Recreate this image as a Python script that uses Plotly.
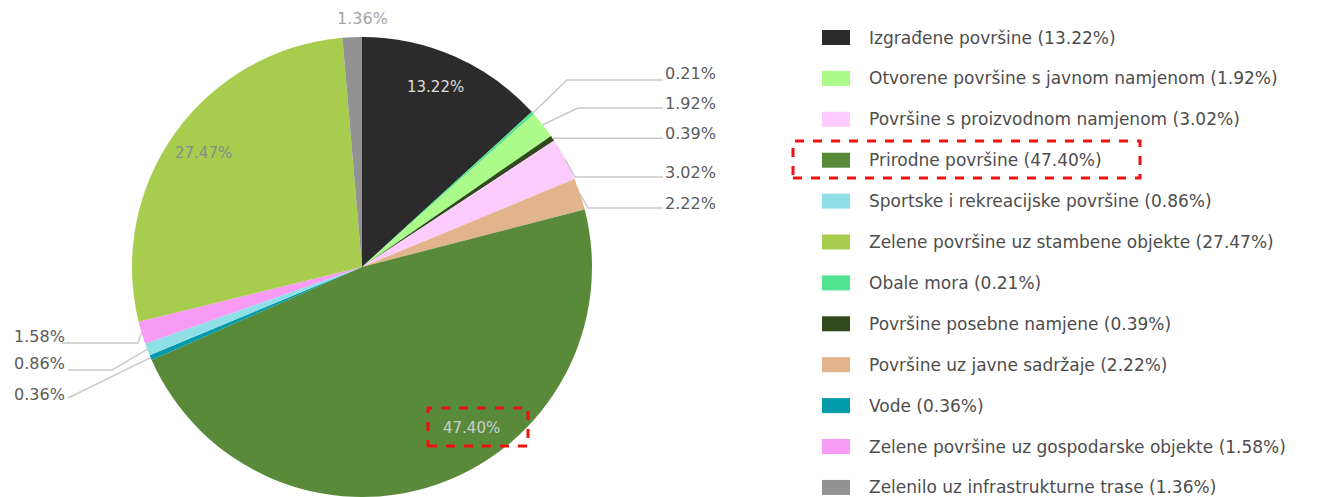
import math
import plotly.graph_objects as go

# ---- data ----
slice_labels = [
    "Izgrađene površine", "Obale mora", "Otvorene površine s javnom namjenom",
    "Površine posebne namjene", "Površine s proizvodnom namjenom",
    "Površine uz javne sadržaje", "Prirodne površine", "Vode",
    "Sportske i rekreacijske površine", "Zelene površine uz gospodarske objekte",
    "Zelene površine uz stambene objekte", "Zelenilo uz infrastrukturne trase",
]
slice_values = [13.22, 0.21, 1.92, 0.39, 3.02, 2.22, 47.40, 0.36, 0.86, 1.58, 27.47, 1.36]
slice_colors = ["#2b2b2b", "#4fe38f", "#abfb8a", "#2f4a1b", "#fdcbfd", "#e2b48b",
                "#588a3a", "#009aab", "#8fdfe6", "#f79bf7", "#a8cd4e", "#929292"]

legend_order = [
    "Izgrađene površine", "Otvorene površine s javnom namjenom",
    "Površine s proizvodnom namjenom", "Prirodne površine",
    "Sportske i rekreacijske površine", "Zelene površine uz stambene objekte",
    "Obale mora", "Površine posebne namjene", "Površine uz javne sadržaje",
    "Vode", "Zelene površine uz gospodarske objekte", "Zelenilo uz infrastrukturne trase",
]

W, H = 1324, 497
CX, CY, R = 362, 267, 230

def px(x):
    return x / W

def py(y):
    return 1 - y / H

def fmt(v):
    return f"{v:.2f}%"

fig = go.Figure(go.Pie(
    labels=slice_labels, values=slice_values, sort=False, direction="clockwise",
    rotation=0, marker=dict(colors=slice_colors, line=dict(width=0)),
    textinfo="none", hoverinfo="label+percent", showlegend=False,
    domain=dict(x=[px(CX - R), px(CX + R)], y=[0, py(CY - R)]),
))

FONT = "DejaVu Sans"
annotations = []
shapes = []

cum = 0
mid = {}
total = sum(slice_values)
for lab, v in zip(slice_labels, slice_values):
    mid[lab] = (cum + v / 2) / total * 2 * math.pi
    cum += v

def edge(lab, r=R):
    a = mid[lab]
    return CX + r * math.sin(a), CY - r * math.cos(a)

def ann(x, y, text, color, size, xanchor="center"):
    annotations.append(dict(x=px(x), y=py(y), xref="paper", yref="paper", text=text,
                            xanchor=xanchor, yanchor="middle", showarrow=False,
                            font=dict(family=FONT, size=size, color=color)))

# inside labels
inside = [("Izgrađene površine", 436, 87, "#dedede"),
          ("Zelene površine uz stambene objekte", 203, 153, "#8a8a8a"),
          ("Prirodne površine", 472, 428, "#cfcfcf")]
for lab, x, y, c in inside:
    ann(x, y, fmt(slice_values[slice_labels.index(lab)]), c, 15)

LINE = "#c9c9c9"
outside = [
    ("Obale mora", 567, 80, 663, 663, 74),
    ("Otvorene površine s javnom namjenom", 578, 108, 663, 663, 103),
    ("Površine posebne namjene", None, 140, 663, 663, 133),
    ("Površine s proizvodnom namjenom", 575, 177, 663, 663, 172),
    ("Površine uz javne sadržaje", 588, 208, 663, 663, 203),
    ("Zelene površine uz gospodarske objekte", 138, 343, 62, 12, 336),
    ("Sportske i rekreacijske površine", 112, 370, 68, 12, 363),
    ("Vode", None, 398, 68, 12, 394),
]

def conv(points):
    return "M " + " L ".join(f"{px(x)},{py(y)}" for x, y in points)

for lab, ex, ly, endx, tx, ty in outside:
    sx, sy = edge(lab)
    if ex is None:
        pts = [(sx, sy), (endx, ly)] if lab == "Vode" else [(sx, sy), (endx, sy)]
    else:
        pts = [(sx, sy), (ex, ly), (endx, ly)]
    shapes.append(dict(type="path", path=conv(pts), xref="paper", yref="paper",
                       line=dict(color=LINE, width=1.5)))
    ann(tx, ty, fmt(slice_values[slice_labels.index(lab)]), "#5a5a5a", 16, "left")

ann(362, 18, fmt(slice_values[slice_labels.index("Zelenilo uz infrastrukturne trase")]),
    "#a5a5a5", 16)

# manual legend
for i, lab in enumerate(legend_order):
    yc = 37.5 + 40.9 * i
    c = slice_colors[slice_labels.index(lab)]
    v = slice_values[slice_labels.index(lab)]
    shapes.append(dict(type="rect", xref="paper", yref="paper",
                       x0=px(822), x1=px(850), y0=py(yc + 7.5), y1=py(yc - 7.5),
                       fillcolor=c, line=dict(width=0)))
    ann(867, yc, f"{lab} ({fmt(v)})", "#4d4d4d", 17, "left")

for x0, y0, x1, y1 in [(793, 141, 1140, 178), (428, 408, 528, 446)]:
    shapes.append(dict(type="rect", xref="paper", yref="paper",
                       x0=px(x0), x1=px(x1), y0=py(y1), y1=py(y0),
                       line=dict(color="#ee1111", width=3, dash="dash")))

fig.update_layout(width=W, height=H, margin=dict(l=0, r=0, t=0, b=0),
                  paper_bgcolor="white", plot_bgcolor="white",
                  annotations=annotations, shapes=shapes)
fig.write_html("out.html", config={"displayModeBar": False},
               post_script="document.body.style.margin='0';document.body.style.overflow='hidden';")
